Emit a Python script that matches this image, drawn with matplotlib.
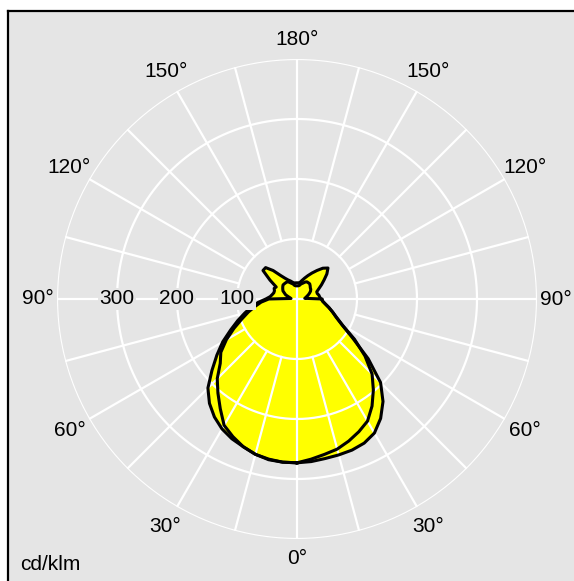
import numpy as np
import matplotlib
matplotlib.use("Agg")
import matplotlib.pyplot as plt
from matplotlib.patches import Rectangle
from matplotlib.lines import Line2D

plt.rcParams["font.family"] = ["Liberation Sans", "DejaVu Sans"]

# gamma angles (deg) and intensities in cd/klm
gamma = list(range(0, 181, 5))

# curve with the "wings" (right half / left half)
wing_right = [273, 272, 270, 269, 268, 265, 258, 243, 223, 197, 155, 113, 87, 72, 63, 55, 48, 43, 40,
              38, 37, 35, 35, 40, 47, 55, 65, 73, 67, 58, 50, 43, 37, 32, 28, 27, 27]
wing_left = [273, 273, 272, 268, 262, 257, 250, 240, 227, 210, 185, 163, 143, 122, 105, 90, 77, 65, 52,
             45, 42, 40, 40, 42, 40, 55, 74, 74, 62, 48, 40, 35, 32, 29, 27, 27, 27]

# round curve with the small loop on top
round_right = [273, 268, 263, 259, 252, 244, 235, 218, 198, 177, 148, 117, 88, 73, 63, 55, 48, 43, 42,
               13, 15, 17, 20, 23, 26, 28, 29, 31, 33, 33, 33, 31, 28, 26, 23, 22, 22]
round_left = [273, 273, 271, 268, 262, 253, 243, 223, 205, 188, 167, 155, 136, 116, 98, 84, 71, 60, 47,
              10, 12, 15, 20, 23, 27, 29, 31, 33, 33, 33, 33, 31, 28, 26, 23, 22, 22]

ring_values = [100, 200, 300, 400]
ring_labels = ["100", "200", "300"]
angle_labels = [0, 30, 60, 90, 120, 150, 180]
unit_label = "cd/klm"

bg = "#e5e5e5"
W, H = 574, 581
fs = 15

fig = plt.figure(figsize=(5.74, 5.81), dpi=100)
fig.patch.set_facecolor("white")
# grey panel, only its left and top edges are inside the picture
fig.add_artist(Rectangle((8 / W, 0), 1, 570 / H, transform=fig.transFigure,
                         facecolor=bg, edgecolor="none", zorder=-2))
fig.add_artist(Line2D([8 / W, 8 / W], [0, 570 / H], transform=fig.transFigure, color="black", lw=1.6, zorder=-1))
fig.add_artist(Line2D([8 / W, 1], [570 / H, 570 / H], transform=fig.transFigure, color="black", lw=1.6, zorder=-1))

cx, cy, R = 297, 282, 240
ax = fig.add_axes([(cx - R) / W, (cy - R) / H, 2 * R / W, 2 * R / H], projection="polar")
ax.set_zorder(1)
ax.set_theta_zero_location("S")
ax.set_theta_direction(1)
ax.set_ylim(0, 400)
ax.patch.set_alpha(0)
ax.grid(False)
ax.set_xticks([])
ax.set_yticks([])
ax.spines["polar"].set_visible(False)


def closed_curve(right, left):
    g = np.radians(gamma)
    th = np.concatenate([g, 2 * np.pi - g[::-1]])
    r = np.concatenate([right, left[::-1]])
    return th, r


curves = [closed_curve(wing_right, wing_left), closed_curve(round_right, round_left)]

for th, r in curves:
    ax.fill(th, r, color="#ffff00", zorder=1, lw=0)

# grid
circ = np.linspace(0, 2 * np.pi, 400)
for rv in ring_values:
    ax.plot(circ, np.full_like(circ, rv), color="white", lw=1.6, zorder=2)
for a in range(0, 360, 15):
    t = np.radians(a)
    r0 = 0 if a % 90 == 0 else 100
    ax.plot([t, t], [r0, 400], color="white", lw=1.6, zorder=2)

for th, r in curves:
    ax.plot(th, r, color="black", lw=2.2, zorder=3)

# ring labels on the left axis
for rv, lab in zip(ring_values, ring_labels):
    ax.text(np.radians(270), rv, lab, ha="center", va="center", fontsize=fs, zorder=4,
            bbox=dict(facecolor=bg, edgecolor="none", pad=1))

# angle labels, both sides
for a in angle_labels:
    rl = 432 if a % 90 == 0 else 438
    for t in sorted({a, (360 - a) % 360}):
        ax.text(np.radians(t), rl, f"{a}°", ha="center", va="center", fontsize=fs, clip_on=False)

fig.text(20 / W, 1 - 565 / H, unit_label, ha="left", va="center", fontsize=fs)

fig.savefig("out.png", dpi=100, facecolor=fig.get_facecolor())
